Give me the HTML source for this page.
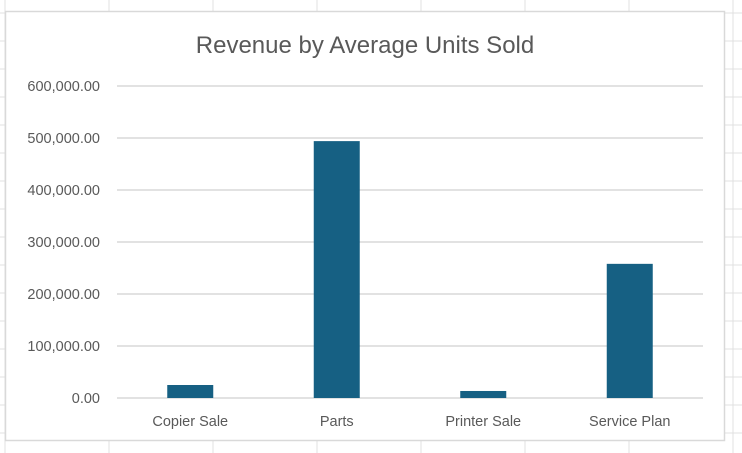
<!DOCTYPE html>
<html><head><meta charset="utf-8"><style>
html,body{margin:0;padding:0;background:#fff;}
svg{display:block;font-family:"Liberation Sans",sans-serif;}
</style></head><body>
<svg id="c" width="742" height="453">
<g id="sheet"></g>
<rect x="5.5" y="11.5" width="719" height="429" fill="#fff" stroke="#d9d9d9" stroke-width="1.5"/>
<text x="365" y="53" text-anchor="middle" font-size="24" fill="#595959">Revenue by Average Units Sold</text>
<g id="grid"></g>
<g id="yt"></g>
<g id="bars"></g>
<g id="xt"></g>
</svg>
<script>
const categories=["Copier Sale","Parts","Printer Sale","Service Plan"];
const values=[25000,494000,13500,258000];
const ticks=[0,100000,200000,300000,400000,500000,600000];
const tickLabels=["0.00","100,000.00","200,000.00","300,000.00","400,000.00","500,000.00","600,000.00"];
const NS="http://www.w3.org/2000/svg";
const X0=117,X1=703,Y0=398,Y1=86,YMAX=600000;
const y=v=>Y0-(v/YMAX)*(Y0-Y1);
const bw=(X1-X0)/categories.length;
const xc=i=>X0+bw*(i+0.5);
function mk(t,a,p){const e=document.createElementNS(NS,t);for(const k in a)e.setAttribute(k,a[k]);p.appendChild(e);return e;}
const sheet=document.getElementById('sheet');
for(let x=5;x<742;x+=104){const l=mk('line',{x1:x,x2:x,y1:0,y2:453,stroke:'#e1e1e1'},sheet);

}
for(let yy=13;yy<453;yy+=28){const l=mk('line',{x1:0,x2:742,y1:yy,y2:yy,stroke:'#e1e1e1'},sheet);

}
const g=document.getElementById('grid'),yt=document.getElementById('yt');
ticks.forEach((t,i)=>{
const l=mk('line',{x1:X0,x2:X1,y1:y(t),y2:y(t),stroke:'#d9d9d9','stroke-width':1.5},g);


const tx=mk('text',{x:100,y:y(t)+5,'text-anchor':'end','font-size':14.5,fill:'#595959'},yt);
tx.textContent=tickLabels[i];


});
const bars=document.getElementById('bars'),xt=document.getElementById('xt');
categories.forEach((c,i)=>{
const r=mk('rect',{x:xc(i)-23,width:46,y:y(values[i]),height:Y0-y(values[i]),fill:'#166083'},bars);


const t=mk('text',{x:xc(i),y:426,'text-anchor':'middle','font-size':14.5,fill:'#595959'},xt);
t.textContent=c;


});
</script>
</body></html>
